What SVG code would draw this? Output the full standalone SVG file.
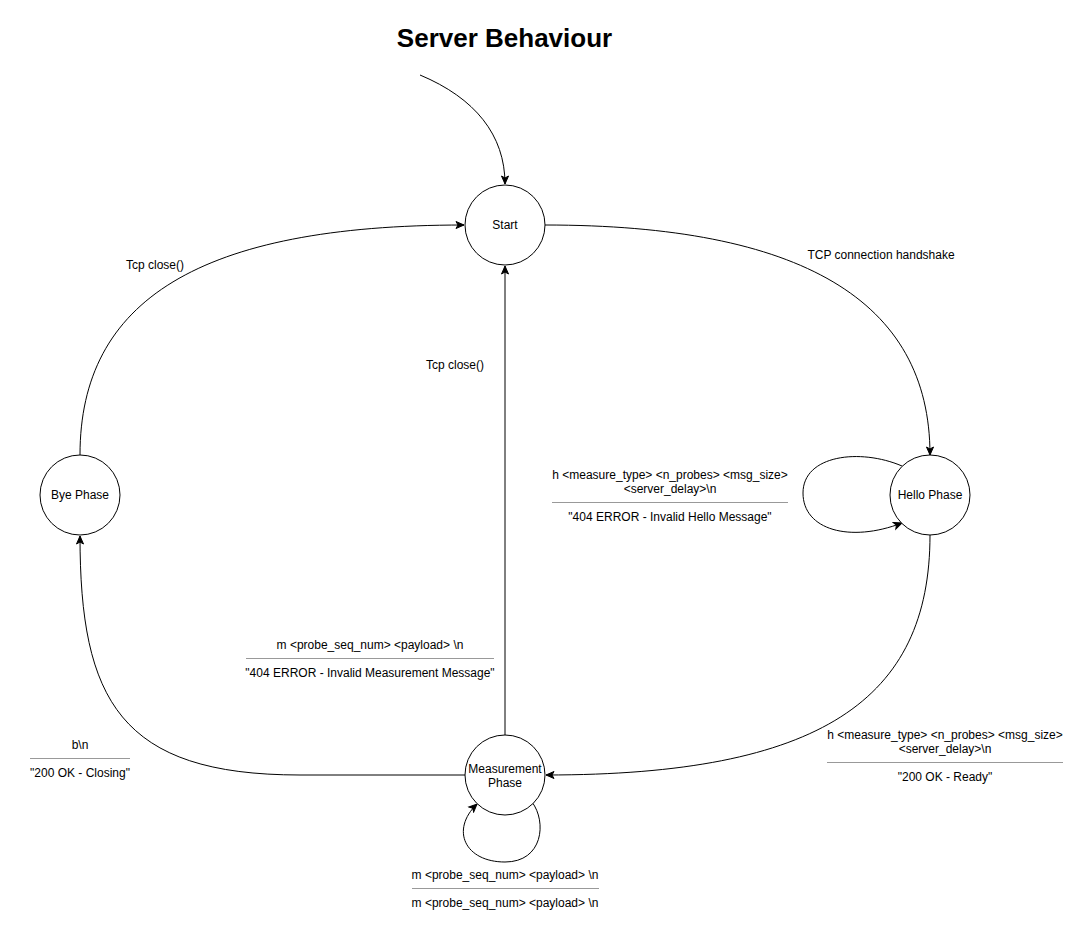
<svg xmlns="http://www.w3.org/2000/svg" width="1091" height="929" viewBox="0 0 1091 929">
<style>
text{font-family:"Liberation Sans",Arial,sans-serif;font-size:12px;fill:#000;text-anchor:middle}
.title{font-size:26px;font-weight:bold}
.node circle{fill:#fff;stroke:#000;stroke-width:1}
.edge{fill:none;stroke:#000;stroke-width:1}
.sep{stroke:#999;stroke-width:1}
</style>
<defs>
<marker id="arr" viewBox="0 0 10 10" refX="9" refY="5" markerWidth="10" markerHeight="10" markerUnits="userSpaceOnUse" orient="auto">
<path d="M1,1.5 L9,5 L1,8.5 L3,5 z" fill="#000" stroke="#000" stroke-width="1"/>
</marker>
</defs>
<rect width="1091" height="929" fill="#fff"/>
<text class="title" x="504.5" y="47">Server Behaviour</text>
<g id="connectors">
<path class="edge" d="M420 75 C475 98 505 135 505 184" marker-end="url(#arr)"/>
<path class="edge" d="M545 225 C800 225 930 300 930 455" marker-end="url(#arr)"/>
<path class="edge" d="M930 535 C930 700 820 775 546 775" marker-end="url(#arr)"/>
<path class="edge" d="M465 775 L300 775 C120 775 80 700 80 536" marker-end="url(#arr)"/>
<path class="edge" d="M80 455 C80 300 200 225 464 225" marker-end="url(#arr)"/>
<path class="edge" d="M505 735 L505 266" marker-end="url(#arr)"/>
<path class="edge" d="M902 466 C860 448 803 455 803 493 C803 530 850 543 902 523" marker-end="url(#arr)"/>
<path class="edge" d="M532 802 C547 822 543 862 505 862 C465 862 450 830 477 804" marker-end="url(#arr)"/>
</g>
<g id="label-tcp-handshake"><text x="881" y="259">TCP connection handshake</text></g>
<g id="label-bye-start"><text x="155" y="269">Tcp close()</text></g>
<g id="label-meas-start"><text x="455" y="369">Tcp close()</text></g>
<g id="label-hello-loop">
<text x="670" y="479">h &lt;measure_type&gt; &lt;n_probes&gt; &lt;msg_size&gt;</text>
<text x="670" y="493">&lt;server_delay&gt;\n</text>
<line class="sep" x1="552" y1="502.5" x2="788" y2="502.5"/>
<text x="670" y="521">"404 ERROR - Invalid Hello Message"</text>
</g>
<g id="label-meas-error">
<text x="370" y="649">m &lt;probe_seq_num&gt; &lt;payload&gt; \n</text>
<line class="sep" x1="246" y1="658.5" x2="494" y2="658.5"/>
<text x="370" y="677">"404 ERROR - Invalid Measurement Message"</text>
</g>
<g id="label-bye">
<text x="80" y="749">b\n</text>
<line class="sep" x1="30" y1="758.5" x2="130" y2="758.5"/>
<text x="80" y="777">"200 OK - Closing"</text>
</g>
<g id="label-hello-meas">
<text x="945" y="739">h &lt;measure_type&gt; &lt;n_probes&gt; &lt;msg_size&gt;</text>
<text x="945" y="753">&lt;server_delay&gt;\n</text>
<line class="sep" x1="827" y1="762.5" x2="1063" y2="762.5"/>
<text x="945" y="781">"200 OK - Ready"</text>
</g>
<g id="label-meas-loop">
<text x="505" y="879">m &lt;probe_seq_num&gt; &lt;payload&gt; \n</text>
<line class="sep" x1="412" y1="888.5" x2="599" y2="888.5"/>
<text x="505" y="907">m &lt;probe_seq_num&gt; &lt;payload&gt; \n</text>
</g>
<g id="node-start" class="node"><circle cx="505" cy="225" r="40"/><text x="505" y="229">Start</text></g>
<g id="node-hello" class="node"><circle cx="930" cy="495" r="40"/><text x="930" y="499">Hello Phase</text></g>
<g id="node-bye" class="node"><circle cx="80" cy="495" r="40"/><text x="80" y="499">Bye Phase</text></g>
<g id="node-meas" class="node"><circle cx="505" cy="775" r="40"/><text x="505" y="773">Measurement</text><text x="505" y="787">Phase</text></g>
</svg>
